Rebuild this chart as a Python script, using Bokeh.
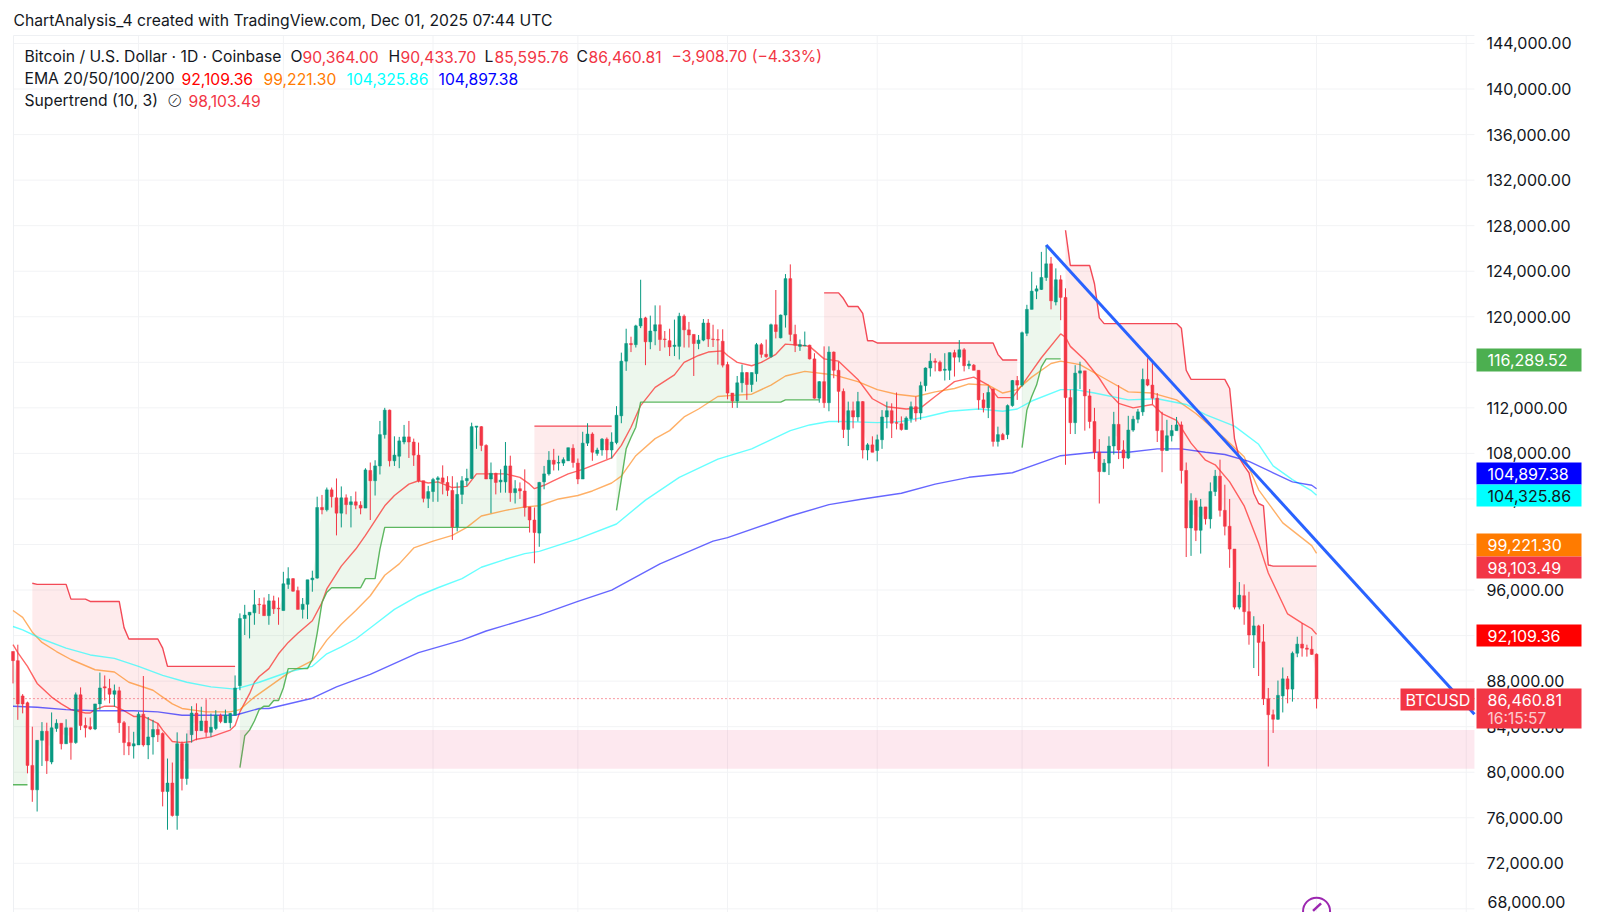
from bokeh.embed import file_html
from bokeh.resources import INLINE
from bokeh.plotting import figure
from bokeh.models import (BoxAnnotation, FixedTicker, Label, LinearAxis, Range1d, NumeralTickFormatter)
import numpy as np

# ---- candle data, thousands of USD, day index -1..269
OPEN = [90.6,89.8,86.7,86.1,80.6,78.45,82.8,83.6,80.9,83.85,84.3,82.5,83.9,82.6,86.8,84.1,84.0,83.8,86.0,87.5,87.35,86.85,87.15,84.35,82.6,82.3,82.4,85.1,82.4,83.1,83.75,83.4,78.3,79.05,76.2,82.5,79.45,83.3,85.2,83.65,84.5,83.5,83.85,85.0,84.35,84.35,85.0,
87.6,93.5,93.8,94.0,94.75,94.7,93.75,95.05,94.4,94.2,96.5,97.0,95.95,94.3,94.75,96.9,97.05,103.25,103.05,104.8,104.1,102.75,104.1,103.5,103.75,103.45,103.2,106.5,105.6,106.9,109.65,111.8,107.35,107.75,109.0,109.45,109.0,107.85,105.6,104.05,104.65,105.7,105.85,105.45,104.75,101.55,104.4,105.6,105.8,110.3,110.35,108.7,105.75,106.25,105.5,105.5,106.9,104.55,104.9,104.7,103.3,102.15,101.0,
105.5,106.2,107.4,107.15,107.15,107.35,108.45,107.15,105.75,108.9,109.7,108.0,108.3,109.25,108.3,108.95,111.3,116.1,117.65,117.55,119.2,119.9,117.8,118.75,119.3,118.05,117.9,117.4,117.4,120.05,118.85,118.45,117.65,117.95,119.45,118.05,118.0,117.85,115.8,113.3,112.6,114.2,115.1,114.05,115.0,117.55,116.7,116.5,119.3,118.15,120.15,123.35,118.45,117.4,117.45,117.5,116.3,112.85,114.3,112.45,
116.9,115.3,113.45,110.1,111.75,111.2,112.55,108.3,108.75,108.25,109.2,111.2,111.75,110.7,110.6,110.1,111.05,112.1,111.55,113.95,115.5,116.1,116.0,115.3,115.3,116.85,116.45,117.1,115.7,115.75,115.3,112.7,112.0,113.65,109.05,109.65,109.65,112.2,114.4,114.0,118.55,120.65,122.25,122.4,123.45,124.65,121.3,123.25,121.7,
112.9,110.7,115.05,115.25,113.05,110.8,108.1,106.4,107.15,108.65,110.55,108.3,107.6,110.05,111.0,111.65,114.5,114.0,112.85,110.0,108.25,109.55,110.0,110.5,106.5,101.45,103.85,101.25,103.3,102.25,104.65,106.0,103.0,101.6,99.6,94.5,
95.5,94.1,92.05,92.85,91.45,86.45,85.05,84.65,86.7,88.2,87.3,90.45,91.25,90.9,90.8,90.364]
HIGH = [90.6,91.2,86.86,86.2,84.0,82.8,84.4,84.35,85.25,84.65,84.3,84.65,83.9,87.0,87.45,84.8,84.8,86.0,88.75,88.5,88.2,87.7,87.5,84.5,84.05,83.55,85.3,88.45,84.85,84.6,84.3,83.5,81.2,80.85,83.5,82.7,83.4,85.8,86.05,85.75,86.4,85.15,85.45,85.15,85.5,85.2,88.5,
93.95,94.7,94.05,96.0,95.3,95.35,95.65,95.5,95.35,97.6,98.0,97.05,96.3,95.3,96.9,97.7,104.2,104.35,105.0,105.0,105.8,105.1,104.4,104.25,104.65,103.8,106.7,107.2,107.4,110.85,112.0,111.85,109.5,109.45,110.5,110.85,109.3,108.95,105.6,105.15,105.85,106.0,106.95,106.0,106.0,105.45,106.0,106.65,110.7,110.4,110.4,108.8,107.2,106.3,106.6,109.0,107.8,105.65,105.45,106.6,103.3,103.25,105.5,
106.9,108.2,108.4,107.8,107.65,108.5,108.8,107.55,109.9,110.65,109.85,108.5,109.35,109.4,109.85,112.15,116.85,118.95,118.25,119.3,123.25,120.0,120.1,121.0,121.0,118.75,118.95,119.75,120.35,120.2,119.55,118.45,118.4,119.8,119.8,119.3,118.9,118.9,116.05,113.3,114.8,115.8,115.15,115.1,117.7,117.7,118.0,119.4,122.35,120.2,123.75,124.6,119.3,118.0,118.7,117.55,116.8,114.35,117.4,117.4,
116.95,116.05,113.7,112.55,112.55,113.4,112.6,108.9,109.5,109.65,111.8,112.55,112.4,113.35,111.25,111.25,112.55,113.0,114.3,115.55,116.8,116.35,116.15,116.8,116.85,117.1,117.95,117.25,116.15,115.85,115.3,113.3,113.9,113.7,110.35,109.8,112.3,114.45,114.8,118.7,121.05,123.95,122.75,125.7,126.3,125.25,124.25,123.65,122.5,
113.6,115.75,116.05,115.25,113.65,112.0,109.25,107.5,109.5,111.65,114.0,109.15,111.3,111.3,111.9,115.45,116.35,116.05,113.3,111.65,110.95,110.5,111.2,110.8,107.2,104.5,104.1,104.0,103.3,105.45,106.55,107.45,105.25,104.0,99.6,96.7,
96.5,95.85,93.7,92.95,93.0,87.4,85.5,88.05,89.2,88.45,90.6,91.9,93.1,91.2,91.95,90.434]
LOW = [87.8,84.6,85.17,79.9,77.4,76.55,80.55,79.85,80.7,83.55,82.0,82.5,81.1,82.5,83.7,83.05,83.7,83.7,85.5,86.3,86.05,85.75,83.45,81.5,81.5,81.2,82.4,82.25,81.15,81.55,82.65,77.0,74.95,76.1,74.95,78.4,78.9,82.6,82.8,83.65,83.1,83.1,83.7,84.3,84.35,83.85,85.0,
87.2,92.05,91.75,92.95,93.9,93.75,92.95,93.9,92.95,94.2,96.1,95.85,94.3,93.5,93.45,95.85,97.0,102.65,102.9,103.25,100.8,101.5,102.65,101.5,103.1,102.65,103.2,102.15,104.3,106.15,109.3,106.85,106.9,106.7,108.8,107.6,106.9,105.45,103.7,103.2,103.75,103.75,104.4,104.25,100.4,101.15,103.55,105.15,105.75,108.4,108.2,105.75,102.75,104.4,104.55,104.55,103.75,103.6,104.0,102.45,101.05,98.35,99.8,
104.85,106.05,106.5,106.5,106.9,107.35,106.75,105.3,105.75,108.65,107.35,107.8,107.8,107.5,107.55,108.8,110.65,115.25,116.9,117.3,119.0,115.75,117.15,117.5,117.0,117.3,116.55,116.55,116.25,117.3,117.3,114.8,117.15,117.85,117.35,117.35,115.8,115.55,112.75,112.0,112.0,113.35,112.7,113.4,114.3,116.4,116.4,116.4,118.1,118.1,119.05,117.85,116.9,117.0,117.45,116.25,112.8,112.45,112.0,111.7,
114.6,110.7,109.35,108.65,110.2,110.8,107.55,107.4,108.1,107.3,108.4,110.2,109.35,110.1,110.0,110.1,110.7,110.8,110.95,113.45,114.75,115.2,115.2,114.4,114.45,114.75,116.0,115.2,115.4,115.3,111.85,111.6,111.1,108.6,108.6,109.2,109.25,112.1,112.7,113.85,118.3,120.65,121.55,122.35,123.15,120.65,121.0,119.7,107.0,
109.7,109.7,113.65,110.0,110.2,107.5,103.6,106.35,106.1,107.9,107.5,106.65,107.5,109.9,110.65,111.3,113.9,112.3,109.0,106.35,108.25,109.05,110.0,105.35,98.9,99.0,100.3,99.2,101.75,101.4,104.25,102.45,100.8,97.95,94.3,94.3,
92.95,91.2,89.15,88.45,85.9,80.5,83.45,84.6,85.25,86.05,86.2,90.1,90.15,90.15,90.3,85.596]
CLOSE = [89.8,86.0,86.0,80.6,78.45,82.8,83.6,81.0,83.9,84.3,82.5,83.9,82.6,86.8,84.1,83.9,83.8,86.0,87.4,87.4,86.85,87.15,84.35,82.6,82.3,82.5,85.1,82.4,83.1,83.75,83.3,78.3,79.05,76.2,82.5,79.45,82.5,85.2,83.65,84.5,83.5,83.95,85.0,84.45,85.0,85.15,87.4,
93.5,93.8,94.05,94.7,94.7,93.75,95.05,94.35,94.35,96.55,97.0,95.9,94.3,94.75,96.9,97.05,103.25,103.05,104.8,104.2,102.75,104.1,103.5,103.75,103.45,103.2,106.55,105.6,106.9,109.65,111.8,107.35,107.85,109.1,109.45,109.0,107.85,105.6,104.05,104.65,105.7,105.85,105.45,104.75,101.55,104.4,105.6,105.8,110.35,110.4,108.7,105.75,106.25,105.45,105.65,106.9,104.55,104.9,104.7,103.25,102.15,101.05,105.45,
106.2,107.4,107.05,107.2,107.45,108.5,107.2,105.75,108.9,109.7,108.1,108.3,109.25,108.3,109.0,111.35,116.1,117.65,117.55,119.2,119.85,117.8,118.75,119.3,118.0,118.0,117.35,117.5,120.05,118.85,118.4,117.65,117.95,119.45,118.05,118.0,117.95,115.75,113.3,112.6,114.2,115.1,114.05,115.1,117.55,116.7,116.5,119.3,118.7,120.15,123.35,118.45,117.5,117.55,117.5,116.3,112.85,114.3,112.45,116.9,
115.3,113.45,110.1,111.75,111.2,112.55,108.3,108.75,108.1,109.2,111.2,111.75,110.65,110.65,110.1,111.1,112.1,111.55,113.95,115.5,116.1,116.0,115.25,115.4,116.85,116.45,117.1,115.7,115.85,115.3,112.7,112.0,113.35,109.05,109.65,109.2,112.2,114.4,114.0,118.6,120.65,122.25,122.45,123.45,124.65,121.4,123.25,121.7,112.9,
110.7,115.05,115.25,113.05,110.8,108.1,106.4,107.15,108.65,110.55,108.3,107.6,110.05,111.0,111.65,114.5,114.0,112.85,110.0,108.25,109.55,110.0,110.5,106.5,101.45,103.85,101.25,103.3,102.25,104.65,106.0,103.0,101.6,99.6,94.5,95.55,
94.1,92.05,92.85,91.4,86.45,85.05,84.65,86.75,88.2,87.3,90.45,91.25,90.9,90.8,90.35,86.461]
FIRST_DAY = -1
THOUSAND = 1000.0

# ---- EMA lines, read at sample days
EMA20_D = [-1,0,2,4,5,7,9,11,14,15,16,18,20,22,24,26,29,30,32,34,36,37,40,44,45,46,48,49,50,52,54,56,58,61,63,64,67,70,72,74,76,78,81,83,85,87,90,93,95,97,101,104,106,107,109,111,114,117,120,123,125,127,129,132,136,138,141,143,146,147,149,152,154,157,159,162,164,167,170,174,177,180,184,187,190,194,198,201,203,206,208,210,212,216,217,218,221,224,226,228,231,235,237,240,243,246,248,251,254,257,259,261,263,266,268,269]
EMA20_V = [91.2,90.5,89.3,87.8,87.4,86.6,86,85.5,85.2,85.2,85.5,85.8,85.8,85.4,84.9,84.9,84.3,83.7,82.7,82.6,82.7,82.9,83.1,83.7,84.1,85.3,86.9,87.9,88.4,89.1,90.4,91.4,92.2,93.3,94.9,96.1,98.1,99.6,100.8,102.1,103.4,104.3,105.3,105.6,105.4,105.5,105,105.1,106.2,106.2,106.2,105.9,105.3,104.9,105.2,105.6,106.2,106.6,107.1,107.6,108.7,110.3,112.2,113.8,114.9,116,116.6,116.9,117,116.6,116,115.7,116,116.7,117.6,117.5,117.4,116.3,116.1,114.5,112.8,112.1,111.9,112,113,114.3,114.7,114,112.9,112.9,114,115.2,116.4,118.5,118.2,117.4,116.2,114.6,113.3,112.4,112,112.3,111.5,110.9,108.9,107.4,107,105.5,103.4,100.1,97.5,95.7,93.9,93.1,92.6,92.109]
EMA50_D = [-1,1,3,5,8,11,16,20,23,28,30,32,34,39,44,46,49,52,56,61,64,67,70,73,76,79,82,86,90,93,96,101,105,108,112,116,119,123,125,128,132,135,138,141,145,148,152,156,159,163,167,169,174,178,182,186,190,194,197,201,204,207,210,214,216,220,225,230,235,240,244,247,250,254,257,262,268,269]
EMA50_V = [94.2,93.6,92.3,91.4,90.6,89.9,89,88.8,87.9,87.2,86.6,86,85.6,85.3,85.3,85.5,86.6,87.5,88.7,89.8,91.6,93,94.2,95.5,97.3,98.3,99.7,100.3,100.8,101.5,102.5,103,103.3,103.4,104,104.3,104.7,105.4,106,107.8,109.3,110,111.2,111.9,113,113.1,113.2,114,114.8,115.2,115,114.9,114.3,113.6,113.2,113,113.4,113.7,114.1,114,113.3,113.6,114.7,115.9,116.1,115.8,114.6,113.4,113.3,112.7,111.5,110.4,109.3,107.7,104.8,101.9,99.9,99.221]
EMA100_D = [-1,1,5,10,15,20,25,30,35,40,45,50,56,61,64,67,70,74,78,83,87,92,96,101,105,108,116,124,130,137,145,152,160,164,168,171,178,183,188,193,199,204,207,210,216,219,223,230,236,242,246,252,257,260,264,268,269]
EMA100_V = [92.8,92.5,91.7,90.9,90.3,90,89.3,88.5,87.9,87.5,87.3,87.9,88.8,89.3,90.4,91,91.7,93,94.3,95.5,96.2,97,98,98.7,99.2,99.4,100.5,101.8,103.9,105.9,107.5,108.4,110,110.5,110.8,110.8,110.7,110.8,111.2,111.7,111.9,111.7,111.9,112.6,113.6,113.6,113.3,112.7,112.8,112.3,111.4,110.4,108.8,106.9,105.7,104.7,104.326]
EMA200_D = [-1,4,10,16,24,29,34,45,50,52,61,66,73,83,92,97,108,116,123,133,144,147,160,168,175,183,190,197,206,216,223,230,236,241,246,250,255,260,264,268,269]
EMA200_V = [85.8,85.7,85.5,85.4,85.4,85.3,85,85,85.6,85.6,86.5,87.5,88.6,90.5,91.6,92.4,93.8,95,96,98.3,100.3,100.6,102.5,103.5,104,104.5,105.3,105.9,106.3,107.8,108.1,108.1,108.4,108.4,108.1,107.9,107.3,106.3,105.5,105.2,104.897]

# ---- Supertrend runs (start day, daily values)
ST_RUNS = [
    ("up", -1, [78.9]*4),
    ("down", 3, [96.6] + [96.5]*7 + [95.2]*4 + [95.0]*7 + [92.7] + [91.7]*7 + [90.9] + [89.3]*15),
    ("up", 46, [80.4,83.2,83.7,84.5,85.5,85.8,85.8,86.3,86.3,87.4] + [89.1]*5 + [89.9,92.2,94.9,95.8] + [96.2]*7 + [97.0]*3 + [99.6] + [101.5]*31),
    ("down", 107, [110.4]*17),
    ("up", 124, [103.0,105.7,108.4,109.4,110.3] + [112.5]*30 + [112.7]*8),
    ("down", 167, [122.1]*4 + [121.6] + [120.9]*3 + [120.3] + [117.9]*2 + [117.7]*25 + [116.7] + [116.2]*4),
    ("up", 208, [108.5,111.8,113.0,114.0,115.6,116.3,116.3,116.3,116.3]),
    ("down", 217, [127.6] + [124.5]*5 + [122.9,119.9] + [119.4]*16 + [119.0,115.3] + [114.5]*8 + [113.7,109.3,107.6,106.9,106.3,104.5,103.6,103.4,98.2] + [98.103]*10),
]

# ---- drawings
TREND_DAYS = [213, 301.7]
TREND_PRICES = [126.3, 85.1]
ZONE_DAYS = [35, 301.7]
ZONE_PRICES = [80.3, 83.7]
LAST_CLOSE = 86.461
Y_TICKS = [72,76,80,84,88,92,96,100,104,108,112,116,120,124,128,132,136,140,144]
GRID_PRICES = [68] + Y_TICKS
X_GRID_DAYS = [25,55,86,116,147,178,208,239,269,300]
PANE_LEFT, PANE_RIGHT = -0.897, 301.7
PANE_TOP = 144.7

GREEN, RED = "#089981", "#F23645"
PURPLE = "#9C27B0"
INK = "#131722"
GRID = "#F2F3F5"
FONT = "Inter"
assert len(OPEN) == len(HIGH) == len(LOW) == len(CLOSE), (len(OPEN), len(HIGH), len(LOW), len(CLOSE))

o, h, l, c = [np.array(a) * THOUSAND for a in (OPEN, HIGH, LOW, CLOSE)]
days = np.arange(FIRST_DAY, FIRST_DAY + len(o))
mid = (o + c) / 2

W, H = 1600, 912
p = figure(width=W, height=H, output_backend="svg", toolbar_location=None,
           x_range=Range1d(-3.589, 327.81), y_range=Range1d(67680, 147776),
           x_axis_location=None, y_axis_location=None,
           min_border_left=0, min_border_right=0, min_border_top=0, min_border_bottom=0)
p.background_fill_color = "white"
p.outline_line_color = None
p.grid.visible = False

ax = LinearAxis(fixed_location=PANE_RIGHT)
ax.ticker = FixedTicker(ticks=[v * THOUSAND for v in Y_TICKS])
ax.formatter = NumeralTickFormatter(format="0,0.00")
ax.axis_line_color = None
ax.major_tick_line_color = None
ax.minor_tick_line_color = None
ax.major_label_standoff = 6
ax.major_label_text_font = FONT
ax.major_label_text_font_size = "16px"
ax.major_label_text_color = INK
p.add_layout(ax, "right")

# pane grid, limited to the pane
bottom = p.y_range.start
for d in X_GRID_DAYS:
    p.segment(d, bottom, d, PANE_TOP * THOUSAND, line_color=GRID, line_width=1)
for v in GRID_PRICES:
    p.segment(PANE_LEFT, v * THOUSAND, PANE_RIGHT, v * THOUSAND, line_color=GRID, line_width=1)
p.segment(PANE_LEFT, bottom, PANE_LEFT, PANE_TOP * THOUSAND, line_color="#EEF0F3", line_width=1)
p.segment(PANE_LEFT, PANE_TOP * THOUSAND, PANE_RIGHT, PANE_TOP * THOUSAND, line_color="#EEF0F3", line_width=1)

# supertrend fills
for kind, start, vals in ST_RUNS:
    x = np.arange(start, start + len(vals))
    y = np.array(vals) * THOUSAND
    col = "#4CAF50" if kind == "up" else RED
    p.varea(x=x, y1=y, y2=mid[x - FIRST_DAY], fill_color=col, fill_alpha=0.1)

# EMA lines
for d, v, col in ((EMA20_D, EMA20_V, "#FF0000"), (EMA50_D, EMA50_V, "#FF7B00"),
                  (EMA100_D, EMA100_V, "#00FFFF"), (EMA200_D, EMA200_V, "#0000FF")):
    p.line(d, np.array(v) * THOUSAND, line_color=col, line_width=1.4, line_alpha=0.6)

# supertrend lines
for kind, start, vals in ST_RUNS:
    x = np.arange(start, start + len(vals))
    p.line(x, np.array(vals) * THOUSAND, line_color="#4CAF50" if kind == "up" else RED,
           line_width=1.4, line_alpha=0.9)

# candles
up = c >= o
for mask, col in ((up, GREEN), (~up, RED)):
    p.segment(days[mask], h[mask], days[mask], l[mask], line_color=col, line_width=1)
    p.vbar(days[mask], 0.6, np.maximum(o, c)[mask], np.minimum(o, c)[mask],
           fill_color=col, line_color=col, line_width=0.5)

# zone, last price line, trend line
p.quad(left=ZONE_DAYS[0], right=ZONE_DAYS[1], bottom=ZONE_PRICES[0] * THOUSAND, top=ZONE_PRICES[1] * THOUSAND,
       fill_color="#E91E63", fill_alpha=0.1, line_color=None)
p.line([PANE_LEFT, PANE_RIGHT], [LAST_CLOSE * THOUSAND] * 2, line_color=RED, line_width=1, line_dash=[1, 3])
p.line(TREND_DAYS, np.array(TREND_PRICES) * THOUSAND, line_color="#2962FF", line_width=3)

# event marker with its bolt, only the top shows at the page edge
p.scatter([269], [67.8 * THOUSAND], size=27, marker="circle", fill_color=None,
          line_color=PURPLE, line_width=2)
p.scatter([269.1], [68.15 * THOUSAND], size=11, marker="dash", angle=0.75,
          line_color=PURPLE, line_width=2.5)

def text(s, x, y, color=INK, size=15.7, alpha=1.0):
    p.add_layout(Label(x=x, y=y, x_units="canvas", y_units="canvas", text=s, text_color=color,
                       text_font=FONT, text_font_size=f"{size}px", text_baseline="middle",
                       text_align="left", text_alpha=alpha))

def box(top, bottom, bg, left=1476, right=1581):
    p.add_layout(BoxAnnotation(left=left, right=right, top=top, bottom=bottom,
                               left_units="canvas", right_units="canvas", top_units="canvas", bottom_units="canvas",
                               fill_color=bg, fill_alpha=1.0, line_color=None))

def tag(s, top, bottom, bg, fg="white", left=1476, right=1581, tx=1487):
    box(top, bottom, bg, left, right)
    text(s, tx, (top + bottom) / 2, fg, 16)

tag("116,289.52", 348, 371, "#4CAF50")
tag("104,897.38", 462, 484, "#0000FF")
tag("104,325.86", 484, 506, "#00FFFF", INK)
tag("99,221.30", 533, 556, "#FF7B00")
tag("98,103.49", 556, 578, RED)
tag("92,109.36", 624, 646, "#FF0000")
tag("BTCUSD", 688, 710, RED, left=1400, right=1474, tx=1405)
box(688, 728, RED)
text("86,460.81", 1487, 699, "white", 16)
text("16:15:57", 1487, 718, "white", 15.5, alpha=0.75)
# cut by the page edge in the reference, lifted just enough to stay whole here
text("68,000.00", 1487, 901, INK, 16)

# header and legend
text("ChartAnalysis_4 created with TradingView.com, Dec 01, 2025 07:44 UTC", 13, 20)
text("Bitcoin / U.S. Dollar · 1D · Coinbase", 24, 56)
for s, x, col in (("O", 290, INK), ("90,364.00", 302, RED), ("H", 388, INK), ("90,433.70", 400, RED),
                  ("L", 484, INK), ("85,595.76", 494, RED), ("C", 576, INK), ("86,460.81", 588, RED),
                  ("−3,908.70 (−4.33%)", 671, RED)):
    text(s, x, 56, col)
text("EMA 20/50/100/200", 24, 78)
for s, x, col in (("92,109.36", 181, "#FF0000"), ("99,221.30", 263, "#FF7B00"),
                  ("104,325.86", 346, "#00FFFF"), ("104,897.38", 438, "#0000FF")):
    text(s, x, 78, col)
text("Supertrend (10, 3)", 24, 100)
text("⊘", 168, 100, INK, 9)
text("98,103.49", 188, 100, RED)

open("out.html", "w").write(file_html(p, INLINE))
